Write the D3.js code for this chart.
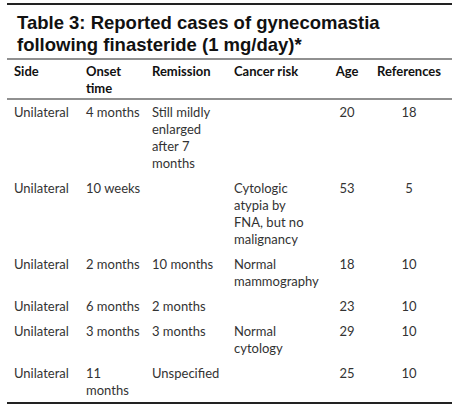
<!DOCTYPE html>
<html><head><meta charset="utf-8">
<script src="https://cdn.jsdelivr.net/npm/d3@7"></script>
<style>body{margin:0;background:#fff}</style>
</head><body>
<div id="tbl"></div>
<script>
// table contents
var titleLines = ["Table 3: Reported cases of gynecomastia", "following finasteride (1 mg/day)*"];
var headers = [["Side"], ["Onset", "time"], ["Remission"], ["Cancer risk"], ["Age"], ["References"]];
var side = ["Unilateral", "Unilateral", "Unilateral", "Unilateral", "Unilateral", "Unilateral"];
var onset = [["4 months"], ["10 weeks"], ["2 months"], ["6 months"], ["3 months"], ["11", "months"]];
var remission = [["Still mildly", "enlarged", "after 7", "months"], [], ["10 months"], ["2 months"], ["3 months"], ["Unspecified"]];
var cancerRisk = [[], ["Cytologic", "atypia by", "FNA, but no", "malignancy"], ["Normal", "mammography"], [], ["Normal", "cytology"], []];
var age = [20, 53, 18, 23, 29, 25];
var refs = [18, 5, 10, 10, 10, 10];

var W = 466, H = 411, left = 7, right = 452, lineH = 17;

var svg = d3.select("#tbl").append("svg").attr("width", W).attr("height", H);

// columns: x position + anchor
var cols = [
  { x: 14, anchor: "start" },
  { x: 86, anchor: "start" },
  { x: 152, anchor: "start" },
  { x: 234, anchor: "start" },
  { x: 347, anchor: "middle" },
  { x: 409, anchor: "middle" }
];

function rule(y, w) {
  svg.append("line").attr("x1", left).attr("x2", right).attr("y1", y).attr("y2", y)
    .attr("stroke", w > 1 ? "#222" : "#888").attr("stroke-width", w);
}
rule(4, 2.2); rule(59, 1.2); rule(99, 1.2); rule(403, 2.2);

svg.selectAll("text.title").data(titleLines).enter().append("text")
  .attr("class", "title").attr("x", 17).attr("y", function (d, i) { return 29 + i * 22; })
  .attr("font-family", "Liberation Sans, Arial, sans-serif").attr("font-weight", "bold")
  .attr("font-size", 18.5).attr("fill", "#111").text(function (d) { return d; });

function cell(lines, col, y0, bold) {
  var t = svg.append("text").attr("text-anchor", cols[col].anchor)
    .attr("font-family", "Lato, 'Open Sans', sans-serif").attr("font-size", 13)
    .attr("font-weight", bold ? "bold" : "normal").attr("fill", bold ? "#111" : "#333");
  lines.forEach(function (l, i) {
    t.append("tspan").attr("x", cols[col].x).attr("y", y0 + i * lineH).text(l);
  });
}

headers.forEach(function (h, c) { cell(h, c, 76, true); });

var y = 117;
side.forEach(function (s, r) {
  var cells = [[s], onset[r], remission[r], cancerRisk[r], [String(age[r])], [String(refs[r])]];
  cells.forEach(function (lines, c) { cell(lines, c, y, false); });
  var n = d3.max(cells, function (d) { return d.length; });
  y += n * lineH + 8;
});
</script>
</body></html>
